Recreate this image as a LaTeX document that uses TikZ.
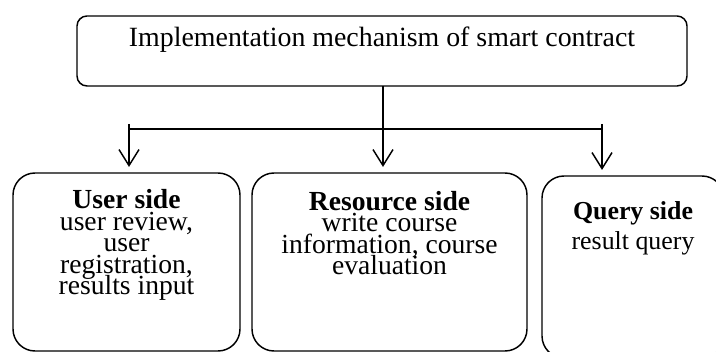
\documentclass[tikz,border=0pt]{standalone}
\usepackage{fontspec}
\setmainfont{Liberation Serif}
\usetikzlibrary{arrows.meta}

% let the stacked lines sit tight
\setlength{\lineskiplimit}{-20pt}

\tikzset{
  box/.style={draw, line width=1.1pt, rounded corners=16.5pt, inner sep=0pt},
  arr/.style={line width=1.1pt, -{Straight Barb[length=12pt,width=15pt,line width=1.1pt]}, shorten >=4pt},
  sidetxt/.style={inner sep=0pt, align=center, font=\fontsize{20.7}{16.2}\selectfont},
}

\begin{document}
\begin{tikzpicture}[x=0.75pt,y=0.75pt,yscale=-1,xscale=1]
\useasboundingbox (0,0) rectangle (716,352);

%Shape: Rounded Rect [id:mech]
\node [box, rounded corners=7.5pt, minimum width=457.5pt, minimum height=52.5pt] (mech) at (382,51) {};
% Text Node
\node [inner sep=0pt, font=\fontsize{20.9}{24}\selectfont] (mechtxt) at (382,40) {Implementation mechanism of smart contract};

%Shape: Rounded Rect [id:user]
\node [box, minimum width=170.25pt, minimum height=133.5pt] (user) at (126.5,262) {};
%Shape: Rounded Rect [id:res]
\node [box, minimum width=206.25pt, minimum height=133.5pt] (res) at (389.5,262) {};
%Shape: Rounded Rect [id:query]
\node [box, minimum width=136.5pt, minimum height=136.5pt] (query) at (633,267) {};

% Text Node
\node [sidetxt] (usertxt) at (126.5,245) {\textbf{User side}\\user review,\\user\\registration,\\results input};
% Text Node
\node [sidetxt] (restxt) at (389.5,233) {\textbf{Resource side}\\write course\\information, course\\evaluation};
% Text Node
\node [inner sep=0pt, align=center, font=\fontsize{19.4}{22.5}\selectfont] (querytxt) at (633,228) {\textbf{Query side}\\result query};

%Straight Lines [id:bar]
\coordinate (barL) at (129,124);
\coordinate (barM) at (383,86);
\coordinate (barR) at (602,124);
\draw [line width=1.6pt] (barL |- 0,129) -- (barR |- 0,129);

%Arrows
\draw [arr] (barL) -- (barL |- user.north);
\draw [arr] (barM) -- (barM |- res.north);
\draw [arr] (barR) -- (barR |- query.north);

\end{tikzpicture}
\end{document}
